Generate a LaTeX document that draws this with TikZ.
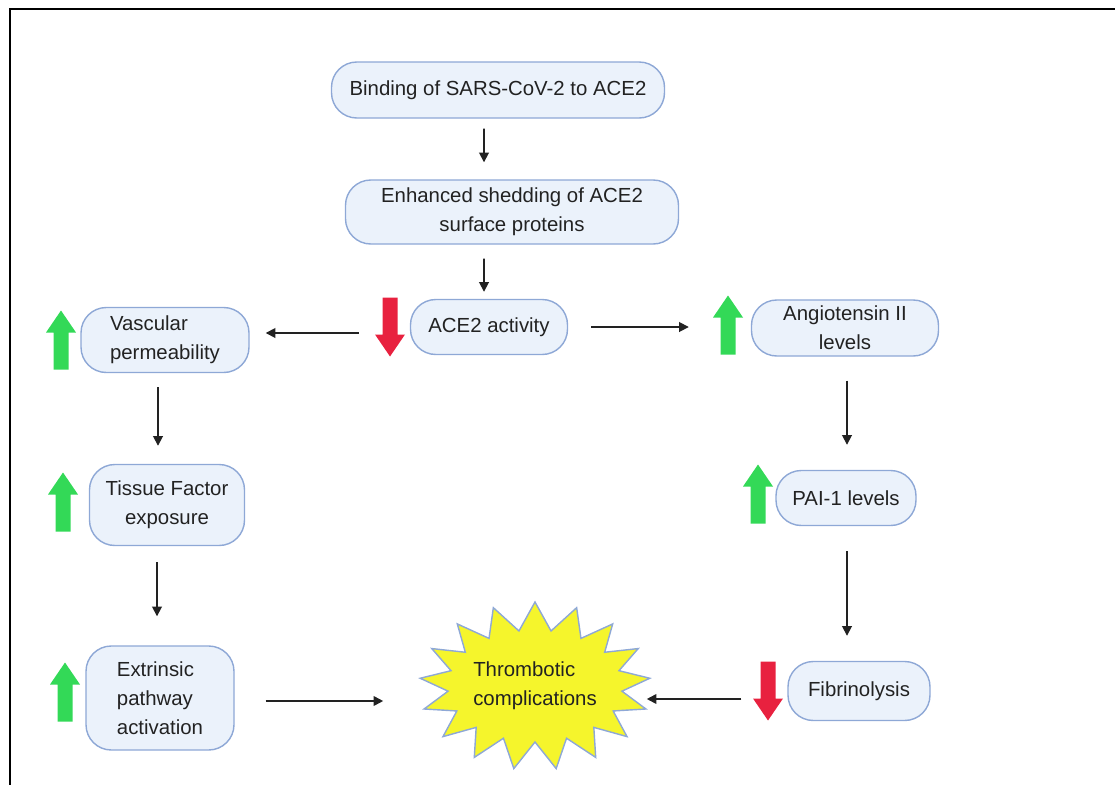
\documentclass[tikz,border=0pt]{standalone}
\usepackage{fontspec}
\setmainfont{Liberation Sans}
\usetikzlibrary{positioning, shapes.symbols, shapes.misc, arrows.meta, calc}
\definecolor{ink}{HTML}{222222}
\definecolor{edge}{HTML}{8EA8D6}
\definecolor{pale}{HTML}{EBF2FB}
\definecolor{rise}{HTML}{33D957}
\definecolor{drop}{HTML}{E8213F}
\definecolor{burstyel}{HTML}{F5F52C}

\tikzset{
  upmark/.pic={\fill[rise] (-0.1875,-0.7375) -- (0.1875,-0.7375) -- (0.1875,0.1875) -- (0.375,0.1875)
                -- (0,0.7375) -- (-0.375,0.1875) -- (-0.1875,0.1875) -- cycle;},
  downmark/.pic={\fill[drop] (-0.1875,0.7375) -- (0.1875,0.7375) -- (0.1875,-0.1875) -- (0.375,-0.1875)
                -- (0,-0.7375) -- (-0.375,-0.1875) -- (-0.1875,-0.1875) -- cycle;}
}

\begin{document}
\begin{tikzpicture}[
  font=\fontsize{14.5}{20.5}\selectfont, text=ink,
  box/.style={draw=edge, line width=1pt, rounded corners=18pt, fill=pale, align=center, inner sep=2pt},
  burst/.style={starburst, starburst points=17, starburst point height=0.7cm, random starburst=0,
                draw=edge, line width=1pt, fill=burstyel, minimum width=5.2cm, minimum height=4.2cm,
                align=left, inner sep=0pt},
  arr/.style={-{Triangle[length=2.4mm, width=2.4mm]}, line width=1.2pt, ink}
]
  \useasboundingbox (0,0) rectangle (27.875,-19.625);
  \draw[line width=2pt] (0.25,-19.625) -- (0.25,-0.225) -- (27.875,-0.225);

  \node[box, minimum width=8.325cm, minimum height=1.4cm] (bind) at (12.45,-2.25) {Binding of SARS-CoV-2 to ACE2};
  \node[box, minimum width=8.325cm, minimum height=1.6cm] (shed) at (12.8,-5.3) {Enhanced shedding of ACE2\\surface proteins};
  \node[box, minimum width=3.925cm, minimum height=1.375cm] (ace) at (12.225,-8.175) {ACE2 activity};
  \node[box, minimum width=4.2cm, minimum height=1.625cm, align=left] (vasc) at (4.125,-8.5) {Vascular\\permeability};
  \node[box, minimum width=3.875cm, minimum height=2.025cm] (tissue) at (4.175,-12.625) {Tissue Factor\\exposure};
  \node[box, minimum width=3.7cm, minimum height=2.6cm, align=left] (extr) at (4.0,-17.45) {Extrinsic\\pathway\\activation};
  \node[box, minimum width=4.675cm, minimum height=1.4cm] (ang) at (21.125,-8.2) {Angiotensin II\\levels};
  \node[box, minimum width=3.5cm, minimum height=1.375cm] (pai) at (21.15,-12.45) {PAI-1 levels};
  \node[box, minimum width=3.55cm, minimum height=1.475cm] (fib) at (21.475,-17.275) {Fibrinolysis};
  \node[burst] (thromb) at (13.375,-17.15) {Thrombotic\\complications};

  \pic at (9.75,-8.175) {downmark};
  \pic at (1.525,-8.5) {upmark};
  \pic at (18.2,-8.125) {upmark};
  \pic at (1.575,-12.55) {upmark};
  \pic at (18.95,-12.35) {upmark};
  \pic at (1.625,-17.3) {upmark};
  \pic at (19.2,-17.275) {downmark};

  \draw[arr, shorten <=0.25cm, shorten >=0.425cm] ([xshift=-0.35cm]bind.south) -- ([xshift=-0.7cm]shed.north);
  \draw[arr, shorten <=0.35cm, shorten >=0.175cm] ([xshift=-0.7cm]shed.south) -- ([xshift=-0.125cm]ace.north);
  \draw[arr, shorten <=1.275cm, shorten >=0.4cm] ([yshift=-0.15cm]ace.west) -- ([yshift=-0.15cm]ace.west -| vasc.east);
  \draw[arr, shorten <=0.575cm, shorten >=1.55cm] (ace.east) -- (ace.east -| ang.west);
  \draw[arr, shorten <=0.35cm, shorten >=0.45cm] ([xshift=-0.175cm]vasc.south) -- ([xshift=-0.175cm]vasc.south |- tissue.north);
  \draw[arr, shorten <=0.4cm, shorten >=0.725cm] ([xshift=-0.25cm]tissue.south) -- ([xshift=-0.25cm]tissue.south |- extr.north);
  \draw[arr, shorten <=0.775cm, shorten >=1.3cm] ([yshift=-0.075cm]extr.east) -- ([yshift=-0.075cm]extr.east -| thromb.west);
  \draw[arr, shorten <=0.6cm, shorten >=0.625cm] ([xshift=0.05cm]ang.south) -- ([xshift=0.05cm]ang.south |- pai.north);
  \draw[arr, shorten <=0.625cm, shorten >=0.625cm] ([xshift=0.025cm]pai.south) -- ([xshift=0.025cm]pai.south |- fib.north);
  \draw[arr, shorten <=1.15cm, shorten >=0.3cm] ([yshift=-0.2cm]fib.west) -- ([yshift=-0.2cm]fib.west -| thromb.east);
\end{tikzpicture}
\end{document}
